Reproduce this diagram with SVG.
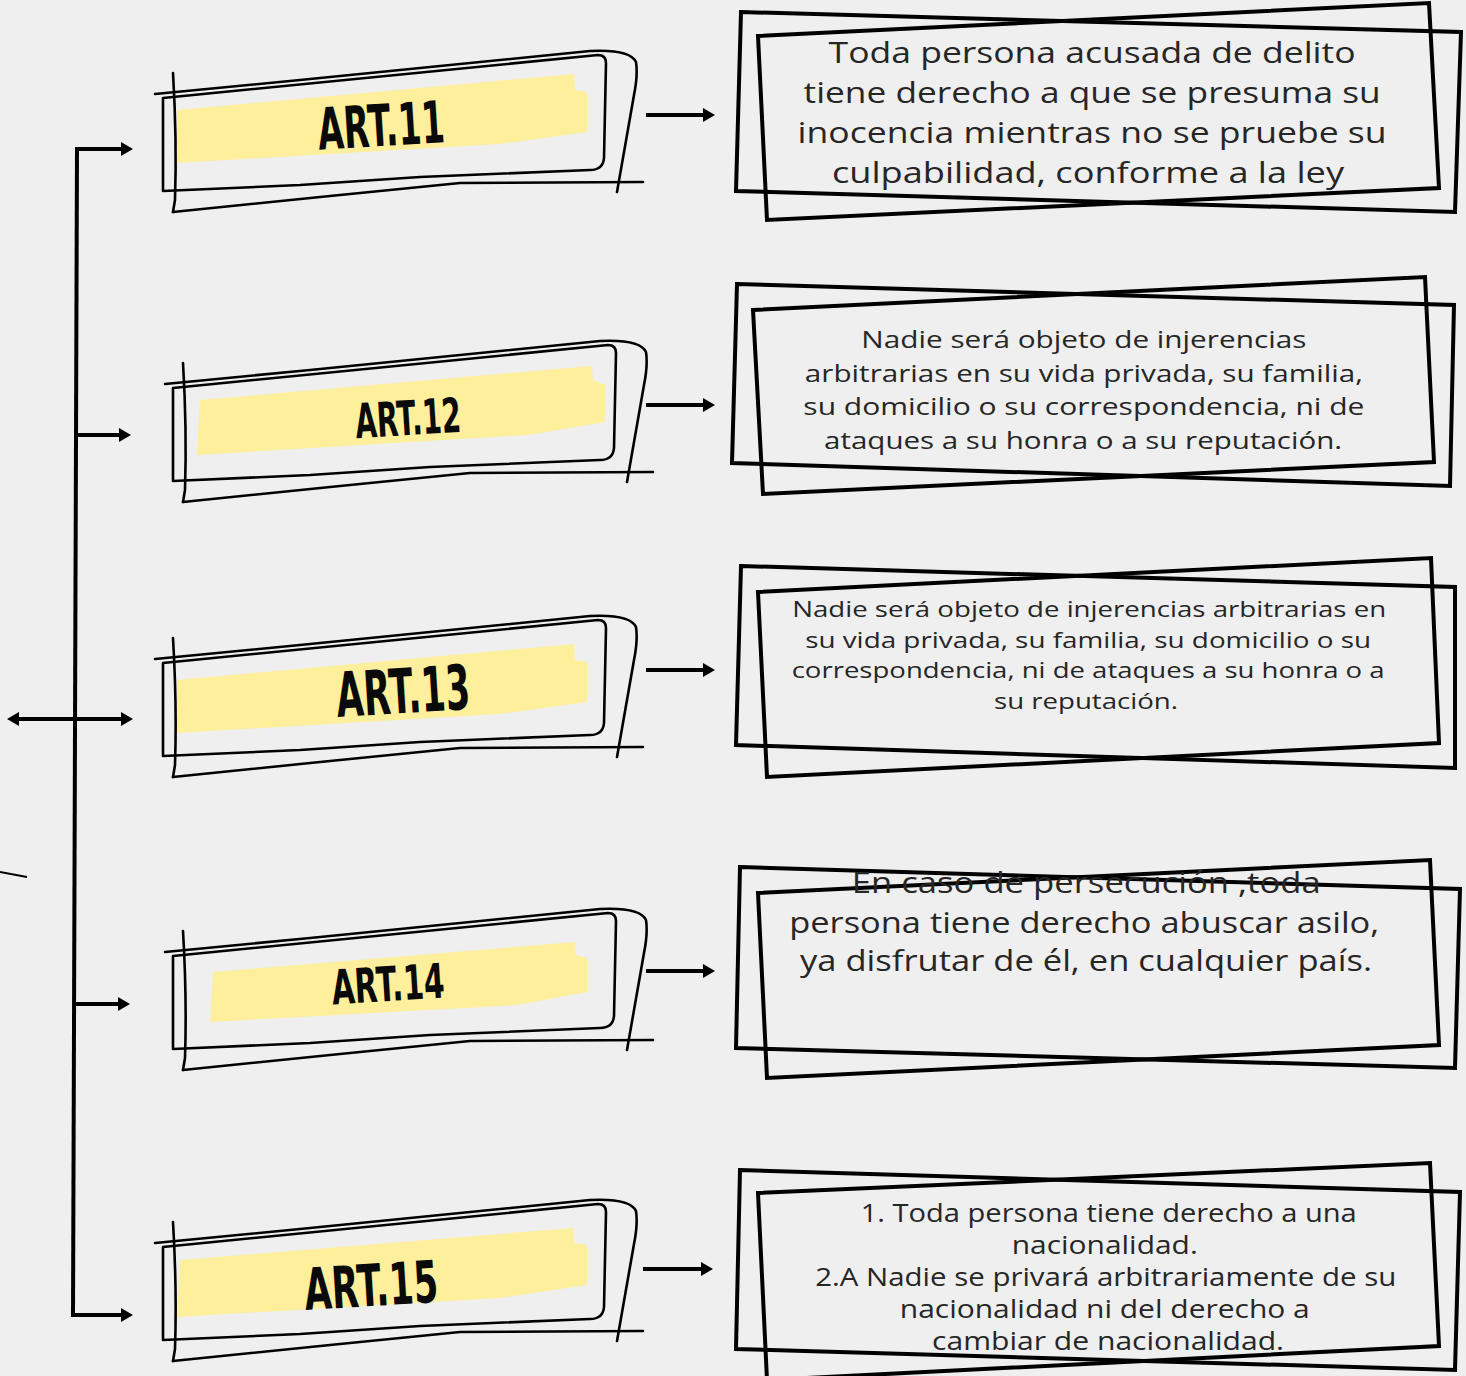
<svg xmlns="http://www.w3.org/2000/svg" xmlns:xlink="http://www.w3.org/1999/xlink" width="1466" height="1376" viewBox="0 0 1466 1376">
<style>
.sk{fill:none;stroke:#000;stroke-width:2.6;stroke-linecap:round;stroke-linejoin:round}
.bx{fill:none;stroke:#000;stroke-width:4;stroke-linejoin:miter}
.hl{fill:#fdef9b}
.ttl{font-family:"DejaVu Sans","Liberation Sans",sans-serif;font-weight:bold;fill:#0a0a0a;text-anchor:middle}
.tx{font-family:"Open Sans","Liberation Sans",sans-serif;font-weight:500;fill:#262626;text-anchor:middle}
.cn{fill:none;stroke:#000;stroke-width:4}
</style>
<defs>
<marker id="ah" viewBox="0 0 12 14" markerWidth="12" markerHeight="14" refX="6" refY="7" orient="auto-start-reverse" markerUnits="userSpaceOnUse">
<path d="M0,0 L12,7 L0,14 Z" fill="#000"/>
</marker>
<g id="frame">
<path class="sk" d="M163,98 L598,55 Q606,55 606,63 L604,158 Q603,170 590,170 L420,177 L300,185 L163,191 Z"/>
<path class="sk" d="M155,94 L300,80 L590,51 Q630,49 636,62 Q638,75 634,95 L617,192"/>
<path class="sk" d="M173,73 Q177,140 175,200 L173,212"/>
<path class="sk" d="M173,212 L330,196 L460,183 L643,182"/>
</g>
</defs>
<rect width="1466" height="1376" fill="#efefef"/>

<g id="connectors">
<path class="cn" d="M77,147 L73,1317"/>
<path class="cn" d="M75,149 H127" marker-end="url(#ah)"/>
<path class="cn" d="M75,435 H125" marker-end="url(#ah)"/>
<path class="cn" d="M13,719 H127" marker-start="url(#ah)" marker-end="url(#ah)"/>
<path class="cn" d="M75,1004 H124" marker-end="url(#ah)"/>
<path class="cn" d="M71,1315 H127" marker-end="url(#ah)"/>
<path class="cn" d="M646,115 H709" marker-end="url(#ah)"/>
<path class="cn" d="M646,405 H709" marker-end="url(#ah)"/>
<path class="cn" d="M646,670 H709" marker-end="url(#ah)"/>
<path class="cn" d="M646,971 H709" marker-end="url(#ah)"/>
<path class="cn" d="M643,1269 H707" marker-end="url(#ah)"/>
<path d="M0,872 L27,877" stroke="#000" stroke-width="2"/>
</g>

<g id="art11">
<polygon class="hl" points="177,110 574,74 575,90 587,92 587,132 500,144 177,163"/>
<use xlink:href="#frame"/>
<text class="ttl" x="381" y="146" font-size="58" textLength="127" lengthAdjust="spacingAndGlyphs" transform="rotate(-3.5 381 125)">ART.11</text>
</g>
<g id="art12">
<polygon class="hl" points="200,400 592,366 593,380 605,385 605,422 528,435 197,455"/>
<use xlink:href="#frame" transform="translate(10,290)"/>
<text class="ttl" x="408" y="435" font-size="48" textLength="106" lengthAdjust="spacingAndGlyphs" transform="rotate(-3.5 408 418)">ART.12</text>
</g>
<g id="art13">
<polygon class="hl" points="177,680 574,644 575,660 587,662 587,702 500,714 177,733"/>
<use xlink:href="#frame" transform="translate(0,565)"/>
<text class="ttl" x="403" y="713" font-size="62" textLength="134" lengthAdjust="spacingAndGlyphs" transform="rotate(-3.5 403 690)">ART.13</text>
</g>
<g id="art14">
<polygon class="hl" points="213,972 575,942 576,955 587,958 587,992 517,1005 210,1022"/>
<use xlink:href="#frame" transform="translate(10,858)"/>
<text class="ttl" x="388" y="1001" font-size="48" textLength="113" lengthAdjust="spacingAndGlyphs" transform="rotate(-3.5 388 984)">ART.14</text>
</g>
<g id="art15">
<polygon class="hl" points="180,1260 573,1228 574,1243 587,1245 587,1285 500,1298 177,1317"/>
<use xlink:href="#frame" transform="translate(0,1149)"/>
<text class="ttl" x="371" y="1306" font-size="58" textLength="134" lengthAdjust="spacingAndGlyphs" transform="rotate(-3.5 371 1285)">ART.15</text>
</g>

<g id="box11">
<polygon class="bx" points="741,12 1461,32 1455,212 736,191"/>
<polygon class="bx" points="758,36 1429,3 1439,188 767,220"/>
<text class="tx" font-size="30">
<tspan x="1096" y="63" textLength="527" lengthAdjust="spacingAndGlyphs">Toda persona acusada de delito</tspan>
<tspan x="1096" y="103" textLength="577" lengthAdjust="spacingAndGlyphs">tiene derecho a que se presuma su</tspan>
<tspan x="1096" y="143" textLength="589" lengthAdjust="spacingAndGlyphs">inocencia mientras no se pruebe su</tspan>
<tspan x="1088" y="183" textLength="512" lengthAdjust="spacingAndGlyphs">culpabilidad, conforme a la ley</tspan>
</text>
</g>
<g id="box12">
<polygon class="bx" points="737,284 1454,305 1450,486 732,463"/>
<polygon class="bx" points="753,310 1425,277 1434,462 763,494"/>
<text class="tx" font-size="24">
<tspan x="1087" y="348" textLength="445" lengthAdjust="spacingAndGlyphs">Nadie será objeto de injerencias</tspan>
<tspan x="1087" y="382" textLength="558" lengthAdjust="spacingAndGlyphs">arbitrarias en su vida privada, su familia,</tspan>
<tspan x="1087" y="415" textLength="561" lengthAdjust="spacingAndGlyphs">su domicilio o su correspondencia, ni de</tspan>
<tspan x="1083" y="449" textLength="518" lengthAdjust="spacingAndGlyphs">ataques a su honra o a su reputación.</tspan>
</text>
</g>
<g id="box13">
<polygon class="bx" points="741,566 1455,587 1455,768 736,745"/>
<polygon class="bx" points="758,592 1431,558 1439,743 767,777"/>
<text class="tx" font-size="22">
<tspan x="1092" y="617" textLength="594" lengthAdjust="spacingAndGlyphs">Nadie será objeto de injerencias arbitrarias en</tspan>
<tspan x="1091" y="648" textLength="566" lengthAdjust="spacingAndGlyphs">su vida privada, su familia, su domicilio o su</tspan>
<tspan x="1091" y="678" textLength="593" lengthAdjust="spacingAndGlyphs">correspondencia, ni de ataques a su honra o a</tspan>
<tspan x="1086" y="709" textLength="184" lengthAdjust="spacingAndGlyphs">su reputación.</tspan>
</text>
</g>
<g id="box14">
<polygon class="bx" points="740,867 1460,889 1455,1068 736,1048"/>
<polygon class="bx" points="758,893 1430,860 1439,1045 767,1078"/>
<text class="tx" font-size="29">
<tspan x="1090" y="893" textLength="469" lengthAdjust="spacingAndGlyphs">En caso de persecución ,toda</tspan>
<tspan x="1088" y="933" textLength="590" lengthAdjust="spacingAndGlyphs">persona tiene derecho abuscar asilo,</tspan>
<tspan x="1086" y="971" textLength="572" lengthAdjust="spacingAndGlyphs">ya disfrutar de él, en cualquier país.</tspan>
</text>
</g>
<g id="box15">
<polygon class="bx" points="740,1170 1460,1192 1455,1370 736,1349"/>
<polygon class="bx" points="758,1193 1430,1163 1439,1346 767,1380"/>
<text class="tx" font-size="25">
<tspan x="1112" y="1222" textLength="496" lengthAdjust="spacingAndGlyphs">1. Toda persona tiene derecho a una</tspan>
<tspan x="1108" y="1254" textLength="186" lengthAdjust="spacingAndGlyphs">nacionalidad.</tspan>
<tspan x="1109" y="1286" textLength="581" lengthAdjust="spacingAndGlyphs">2.A Nadie se privará arbitrariamente de su</tspan>
<tspan x="1108" y="1318" textLength="410" lengthAdjust="spacingAndGlyphs">nacionalidad ni del derecho a</tspan>
<tspan x="1108" y="1350" textLength="352" lengthAdjust="spacingAndGlyphs">cambiar de nacionalidad.</tspan>
</text>
</g>
</svg>
